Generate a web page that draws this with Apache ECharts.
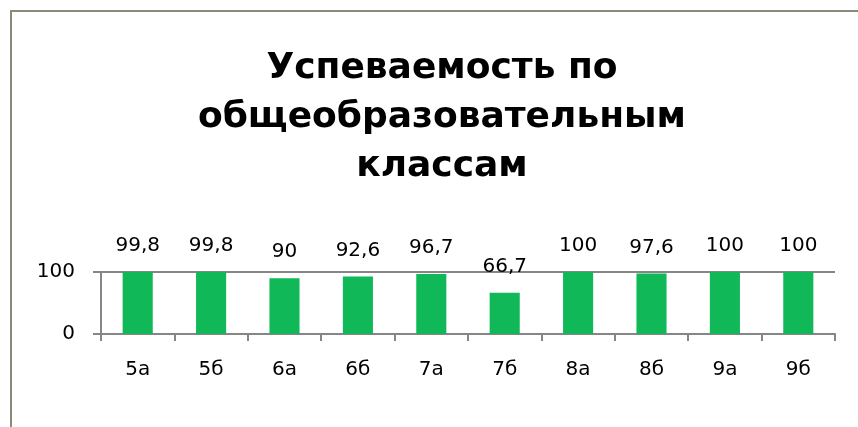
<!DOCTYPE html>
<html><head><meta charset="utf-8">
<script src="https://cdn.jsdelivr.net/npm/echarts@6/dist/echarts.min.js"></script>
<style>html,body{margin:0;padding:0;background:#fff}#c{width:858px;height:427px}</style>
</head><body><div id="c"></div>
<script>
const categories = ['5а','5б','6а','6б','7а','7б','8а','8б','9а','9б'];
const values = [99.8, 99.8, 90, 92.6, 96.7, 66.7, 100, 97.6, 100, 100];
const titleText = 'Успеваемость по\nобщеобразовательным\nклассам';

const chart = echarts.init(document.getElementById('c'), null, {renderer:'canvas'});
chart.setOption({
  animation:false,
  backgroundColor:'#fff',
  title:{
    text:titleText, left:437, top:39, textAlign:'center',
    textStyle:{fontFamily:'DejaVu Sans', fontWeight:'bold', fontSize:36, lineHeight:49, color:'#000'}
  },
  graphic:[
    {type:'line', shape:{x1:10, y1:11, x2:858, y2:11}, style:{stroke:'#8b8b7a', lineWidth:2}, silent:true},
    {type:'line', shape:{x1:11, y1:10, x2:11, y2:427}, style:{stroke:'#8b8b7a', lineWidth:2}, silent:true}
  ],
  grid:{left:101, right:23, top:272, bottom:93, containLabel:false},
  xAxis:{
    type:'category', data:categories, boundaryGap:true,
    axisLine:{show:true, lineStyle:{color:'#868686', width:2}},
    axisTick:{show:true, length:7, lineStyle:{color:'#868686', width:2}},
    axisLabel:{margin:26, fontFamily:'DejaVu Sans', fontSize:20, color:'#000'}
  },
  yAxis:{
    type:'value', min:0, max:100, interval:100,
    axisLine:{show:true, lineStyle:{color:'#868686', width:2}},
    axisTick:{show:true, length:8, lineStyle:{color:'#868686', width:2}},
    splitLine:{show:true, lineStyle:{color:'#868686', width:2}},
    axisLabel:{margin:26, fontFamily:'DejaVu Sans', fontSize:20, color:'#000'}
  },
  series:[{
    type:'bar', data:values, barWidth:'41%',
    itemStyle:{color:'#10b858'},
    label:{show:true, position:'top', distance:16, fontFamily:'DejaVu Sans', fontSize:20, color:'#000',
      formatter:p=>String(p.value).replace('.',',')}
  }]
});
</script></body></html>
